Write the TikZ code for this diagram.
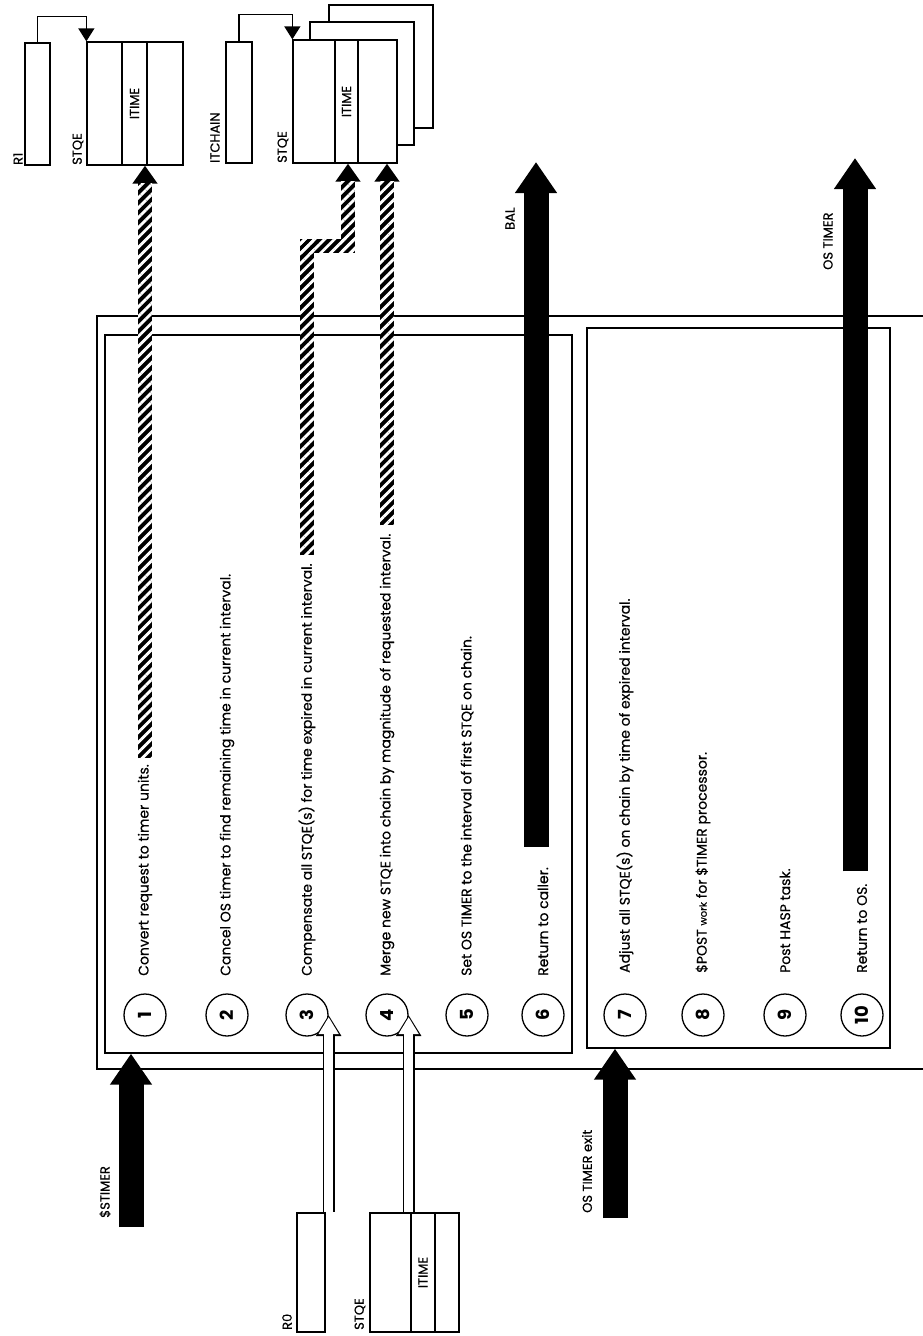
\documentclass[tikz,border=0pt]{standalone}
\usepackage{fontspec}
\setmainfont{Poppins}
\newfontfamily\diagfont[FakeBold=0.5]{Poppins}
\usetikzlibrary{arrows.meta,patterns.meta,calc}

\begin{document}
\begin{tikzpicture}[x=1pt,y=-1pt,
    steptext/.style={rotate=90,anchor=west,inner sep=0pt,font=\diagfont\fontsize{14}{16}\selectfont},
    stepnum/.style={draw,circle,line width=1.3pt,minimum size=42pt,inner sep=0pt,rotate=90,font=\fontsize{18}{20}\selectfont\bfseries},
    outerframe/.style={line width=1.8pt},
    stepbox/.style={draw,line width=1.3pt,inner sep=0pt},
    regbox/.style={draw,line width=1.3pt,fill=white,inner sep=0pt,font=\diagfont\fontsize{13}{15}\selectfont},
    lbl/.style={rotate=90,anchor=west,inner sep=0pt,font=\diagfont\fontsize{13}{15}\selectfont},
    bigarrow/.style={line width=25pt,-{Triangle[length=31pt,width=40pt]}},
    hatcharrow/.style={line width=14pt,line join=miter,-{Triangle[length=18pt,width=24pt]}},
    stripes/.style={pattern={Lines[angle=45,distance=7pt,line width=2.8pt]},pattern color=white},
    hollowout/.style={line width=12pt,-{Triangle[length=21pt,width=24pt]}},
    hollowin/.style={white,line width=9pt,-{Triangle[length=17pt,width=19pt]},shorten >=2pt,shorten <=0.6pt},
    link/.style={line width=1.4pt,-{Triangle[length=13pt,width=16pt]}}]

    \useasboundingbox (0,0) rectangle (923,1336);

    % Frames 
    % ------
    \draw[outerframe] (923,316) -- (97,316) -- (97,1069) -- (923,1069);
    \node[stepbox, minimum width=467pt, minimum height=718pt] (box1) at (338.5,694) {};
    \node[stepbox, minimum width=303pt, minimum height=720pt] (box2) at (738.5,688) {};

    % Steps 1-6 
    % ---------
    \node[stepnum] (c1) at (145,1015) {1};
    \node[stepnum] (c2) at (227,1015) {2};
    \node[stepnum] (c3) at (307,1015) {3};
    \node[stepnum] (c4) at (387,1015) {4};
    \node[stepnum] (c5) at (467,1015) {5};
    \node[stepnum] (c6) at (543,1015) {6};

    \node[steptext] (s1) at (145,976) {Convert request to timer units.};
    \node[steptext] (s2) at (227,976) {Cancel OS timer to find remaining time in current interval.};
    \node[steptext] (s3) at (307,976) {Compensate all STQE(s) for time expired in current interval.};
    \node[steptext] (s4) at (387,976) {Merge new STQE into chain by magnitude of requested interval.};
    \node[steptext] (s5) at (467,976) {Set OS TIMER to the interval of first STQE on chain.};
    \node[steptext] (s6) at (543,976) {Return to caller.};

    % Steps 7-10 
    % ----------
    \node[stepnum] (c7)  at (625,1015) {7};
    \node[stepnum] (c8)  at (703,1015) {8};
    \node[stepnum] (c9)  at (785,1015) {9};
    \node[stepnum] (c10) at (862,1015) {10};

    \node[steptext] (s7)  at (625,973) {Adjust all STQE(s) on chain by time of expired interval.};
    \node[steptext] (s8)  at (703,973) {\$POST {\fontsize{10}{12}\selectfont work} for \$TIMER processor.};
    \node[steptext] (s9)  at (785,973) {Post HASP task.};
    \node[steptext] (s10) at (862,973) {Return to OS.};

    % Control blocks (top)
    % --------------------
    \node[regbox, minimum width=25pt, minimum height=122pt] (r1) at (37.5,104) {};
    \node[regbox, minimum width=96pt, minimum height=123pt] (stqeA) at (135,103.5) {};
    \node[regbox, minimum width=25pt, minimum height=123pt] (itimeA) at (134.5,103.5) {\rotatebox{90}{ITIME}};
    \node[regbox, minimum width=26pt, minimum height=121pt] (itchain) at (239,102.5) {};
    \node[regbox, minimum width=104pt, minimum height=123pt] (stqeB3) at (381,66.5) {};
    \node[regbox, minimum width=104pt, minimum height=123pt] (stqeB2) at (362,83.5) {};
    \node[regbox, minimum width=104pt, minimum height=123pt] (stqeB) at (345,101.5) {};
    \node[regbox, minimum width=23pt, minimum height=123pt] (itimeB) at (346.5,101.5) {\rotatebox{90}{ITIME}};

    \node[lbl] (r1lbl) at (18,165) {R1};
    \node[lbl] (stqeAlbl) at (78,165) {STQE};
    \node[lbl] (itchainlbl) at (215,163) {ITCHAIN};
    \node[lbl] (stqeBlbl) at (283,163) {STQE};

    \draw[link] (r1.north) |- ($(stqeA.north west)+(0,-25)$) -- (stqeA.north west);
    \draw[link] (itchain.north) |- ($(stqeB.north west)+(0,-25)$) -- (stqeB.north west);

    % Control blocks (bottom)
    % -----------------------
    \node[regbox, minimum width=28pt, minimum height=119pt] (r0) at (311,1272.5) {};
    \node[regbox, minimum width=89pt, minimum height=119pt] (stqeC) at (414.5,1272.5) {};
    \node[regbox, minimum width=24pt, minimum height=119pt] (itimeC) at (423,1272.5) {\rotatebox{90}{ITIME}};

    \node[lbl] (r0lbl) at (287,1330) {R0};
    \node[lbl] (stqeClbl) at (360,1330) {STQE};

    % Hatched paths 
    % -------------
    \coordinate (h1) at ([yshift=6pt]s1.east);
    \coordinate (h3) at ([yshift=8pt]s3.east);
    \coordinate (h4) at ([yshift=8pt]s4.east);
    \coordinate (j3) at (348,246);

    \draw[hatcharrow] (h1) -- (h1 |- stqeA.south);
    \draw[hatcharrow] (h3) |- (j3) -- (j3 |- stqeB.south);
    \draw[hatcharrow] (h4) -- (h4 |- stqeB.south);

    \fill[stripes] ($(h1)+(-7,0)$) rectangle ($(h1 |- stqeA.south)+(7,18)$);
    \fill[stripes] ($(h3)+(-7,0)$) rectangle ($(h3 |- j3)+(7,-7)$);
    \fill[stripes] ($(h3 |- j3)+(-7,-7)$) rectangle ($(j3)+(7,7)$);
    \fill[stripes] ($(j3)+(-7,7)$) rectangle ($(j3 |- stqeB.south)+(7,18)$);
    \fill[stripes] ($(h4)+(-7,0)$) rectangle ($(h4 |- stqeB.south)+(7,18)$);

    % Hollow paths 
    % ------------
    \draw[hollowout] (c3.south |- r0.north) -- (c3.south);
    \draw[hollowin]  (c3.south |- r0.north) -- (c3.south);
    \draw[hollowout] (c4.south |- stqeC.north) -- (c4.south);
    \draw[hollowin]  (c4.south |- stqeC.north) -- (c4.south);

    % Entry and exit paths 
    % --------------------
    \coordinate (balend) at (536,162);
    \coordinate (ostend) at (855,158);
    \coordinate (stimer) at (131,1227);
    \coordinate (osexit) at (615,1218);

    \draw[bigarrow] ([yshift=20pt]s6.east -| balend) -- (balend);
    \draw[bigarrow] ([yshift=12pt]s10.east -| ostend) -- (ostend);
    \draw[bigarrow] (stimer) -- (stimer |- box1.south);
    \draw[bigarrow] (osexit) -- (osexit |- box2.south);

    % Labels
    % ------
    \node[lbl] (ballbl) at (510,230) {BAL};
    \node[lbl] (ostimerlbl) at (828,270) {OS TIMER};
    \node[lbl] (stimerlbl) at (105,1218) {\$STIMER};
    \node[lbl] (osexitlbl) at (587,1213) {OS TIMER exit};

\end{tikzpicture}
\end{document}
